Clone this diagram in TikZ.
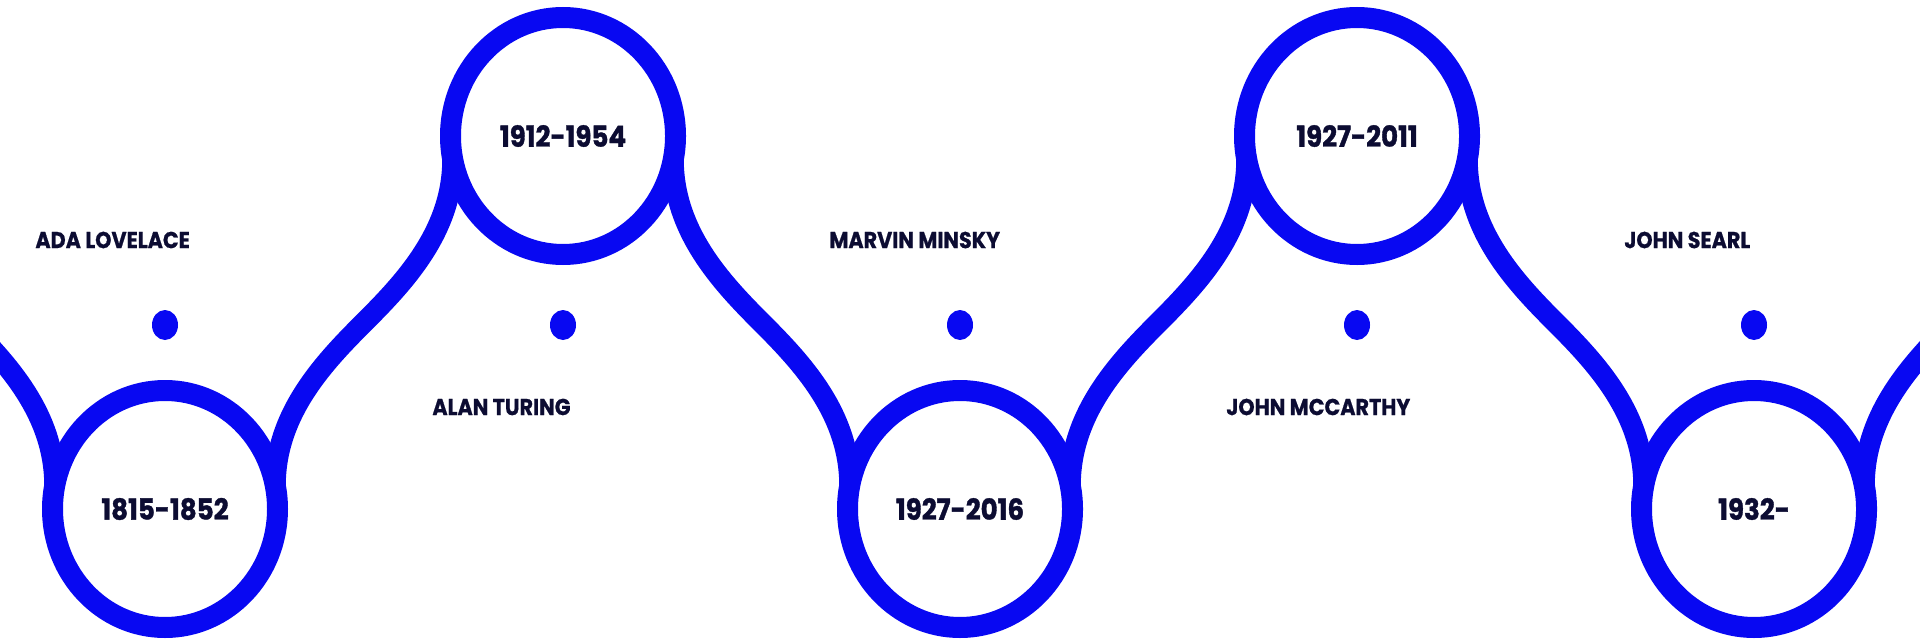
\documentclass[tikz,border=0pt]{standalone}
\usepackage{fontspec}
\setmainfont{Poppins}
\newfontfamily\yearfont{Poppins}[FakeStretch=0.9,FakeBold=1.2]
\newfontfamily\namefont{Poppins}[FakeStretch=0.9,FakeBold=0.8]
\usetikzlibrary{shapes.geometric,calc}
\pgfdeclarelayer{background}
\pgfsetlayers{background,main}
\definecolor{tlblue}{RGB}{8,8,242}
\definecolor{tlink}{RGB}{12,12,50}
\begin{document}
\begin{tikzpicture}[x=0.5pt,y=-0.5pt,
  ring/.style={ellipse, draw=tlblue, fill=white, line width=10.5pt,
    minimum width=112.5pt, minimum height=118.5pt, inner sep=0pt, outer sep=0pt,
    font=\yearfont\bfseries\fontsize{14.5}{16}\selectfont, text=tlink},
  dot/.style={ellipse, fill=tlblue, minimum width=13pt, minimum height=15pt, inner sep=0pt},
  who/.style={anchor=west, inner sep=0pt,
    font=\namefont\bfseries\fontsize{11.5}{13}\selectfont, text=tlink},
  wave/.style={draw=tlblue, line width=10.5pt}]
\useasboundingbox (0,0) rectangle (1920,642);
\clip (0,0) rectangle (1920,642);

% rings
\node[ring] (c1) at (165,509) {1815-1852};
\node[ring] (c2) at (563,136) {1912-1954};
\node[ring] (c3) at (960,509) {1927-2016};
\node[ring] (c4) at (1357,136) {1927-2011};
\node[ring] (c5) at (1754,509) {1932-};

% midpoints of the wave
\coordinate (m01) at (-33.5,322.5);
\coordinate (m12) at ($(c1.center)!0.5!(c2.center)$);
\coordinate (m23) at ($(c2.center)!0.5!(c3.center)$);
\coordinate (m34) at ($(c3.center)!0.5!(c4.center)$);
\coordinate (m45) at ($(c4.center)!0.5!(c5.center)$);
\coordinate (m56) at (1952.5,322.5);

% connectors (behind the rings)
\begin{pgfonlayer}{background}
\draw[wave] (m01) .. controls ($(m01)+(40,40)$) and ($(c1.168)+(0,-72)$) .. (c1.168);
\draw[wave] (c1.12) .. controls ($(c1.12)+(0,-72)$) and ($(m12)+(-40,40)$) .. (m12)
                    .. controls ($(m12)+(40,-40)$) and ($(c2.192)+(0,72)$) .. (c2.192);
\draw[wave] (c2.348) .. controls ($(c2.348)+(0,72)$) and ($(m23)+(-40,-40)$) .. (m23)
                    .. controls ($(m23)+(40,40)$) and ($(c3.168)+(0,-72)$) .. (c3.168);
\draw[wave] (c3.12) .. controls ($(c3.12)+(0,-72)$) and ($(m34)+(-40,40)$) .. (m34)
                    .. controls ($(m34)+(40,-40)$) and ($(c4.192)+(0,72)$) .. (c4.192);
\draw[wave] (c4.348) .. controls ($(c4.348)+(0,72)$) and ($(m45)+(-40,-40)$) .. (m45)
                    .. controls ($(m45)+(40,40)$) and ($(c5.168)+(0,-72)$) .. (c5.168);
\draw[wave] (c5.12) .. controls ($(c5.12)+(0,-72)$) and ($(m56)+(-40,40)$) .. (m56);
\end{pgfonlayer}

% dots
\node[dot] (d1) at (165,325) {};
\node[dot] (d2) at (563,325) {};
\node[dot] (d3) at (960,325) {};
\node[dot] (d4) at (1357,325) {};
\node[dot] (d5) at (1754,325) {};

% names
\node[who] (n1) at (35,240) {ADA LOVELACE};
\node[who] (n2) at (432,407) {ALAN TURING};
\node[who] (n3) at (829,240) {MARVIN MINSKY};
\node[who] (n4) at (1226,407) {JOHN MCCARTHY};
\node[who] (n5) at (1624,240) {JOHN SEARL};
\end{tikzpicture}
\end{document}
